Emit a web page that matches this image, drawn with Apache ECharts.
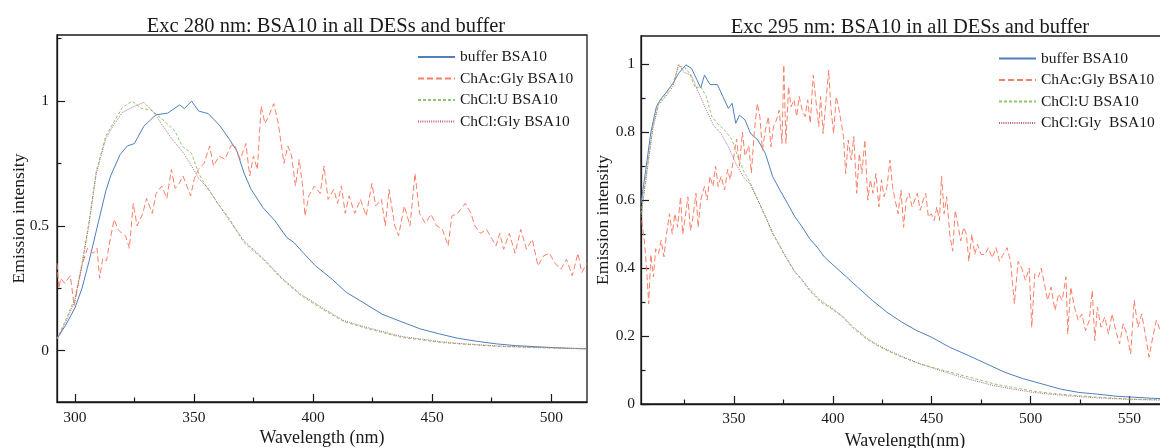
<!DOCTYPE html>
<html><head><meta charset="utf-8">
<script src="https://cdn.jsdelivr.net/npm/echarts@6/dist/echarts.min.js"></script>
<style>html,body{margin:0;padding:0;background:#fff;overflow:hidden;width:1160px;height:448px}#c{width:1170px;height:448px}</style>
</head><body><div id="c"></div><script>
// ---------- DATA ----------
const titles = ['Exc 280 nm: BSA10 in all DESs and buffer', 'Exc 295 nm: BSA10 in all DESs and buffer'];
const names280 = ['buffer BSA10', 'ChAc:Gly BSA10', 'ChCl:U BSA10', 'ChCl:Gly BSA10'];
const names295 = ['buffer BSA10', 'ChAc:Gly BSA10', 'ChCl:U BSA10', 'ChCl:Gly  BSA10'];
const xTicks280 = [300, 350, 400, 450, 500];
const xMinor280 = [325, 375, 425, 475];
const yTicks280 = [0, 0.5, 1];
const yMinor280 = [0.25, 0.75, 1.25];
const xTicks295 = [350, 400, 450, 500, 550];
const xMinor295 = [325, 375, 425, 475, 525];
const yTicks295 = [0, 0.2, 0.4, 0.6, 0.8, 1];
const yMinor295 = [0.1, 0.3, 0.5, 0.7, 0.9];

// Exc 280 nm  [wavelength, intensity]
const buffer280 = [[292.5,0.047],[296,0.10],[300,0.17],[303,0.25],[306,0.36],[310,0.52],[313,0.64],[315,0.70],[319,0.786],[322,0.82],[325,0.83],[329,0.90],[334,0.945],[339,0.952],[344,0.985],[346,0.97],[349,1.0],[352,0.96],[356,0.95],[361,0.90],[365,0.845],[368,0.80],[371,0.712],[374,0.646],[379,0.573],[384,0.52],[389,0.453],[392,0.433],[397,0.38],[401,0.34],[408,0.286],[414,0.233],[421,0.193],[429,0.146],[437,0.116],[445,0.087],[453,0.067],[461,0.049],[469,0.037],[477,0.027],[485,0.02],[493,0.016],[501,0.012],[508,0.009],[515,0.007]];
const chac280 = [[292.5,0.35],[293.3,0.25],[294.1,0.29],[295.7,0.27],[298.1,0.30],[299.7,0.18],[301.3,0.26],[302.9,0.34],[305.3,0.41],[307.7,0.39],[309.3,0.41],[310.4,0.29],[311.7,0.37],[313.3,0.36],[314.9,0.45],[316.5,0.526],[318.1,0.486],[319.7,0.47],[321.3,0.46],[322.9,0.41],[324.5,0.59],[326.1,0.50],[328.5,0.55],[330.1,0.61],[332.5,0.55],[334.1,0.63],[336.5,0.66],[338.6,0.61],[340.5,0.726],[342.1,0.65],[343.8,0.67],[345.4,0.70],[347,0.66],[348.6,0.62],[350.2,0.69],[351.8,0.726],[354.2,0.75],[356.6,0.82],[358.2,0.74],[360.6,0.78],[363,0.766],[365.4,0.82],[367,0.826],[369.4,0.766],[371.8,0.83],[373.4,0.70],[375,0.78],[376.6,0.726],[378.2,0.98],[379.8,0.91],[381.4,0.94],[383.5,0.99],[385.4,0.91],[387.8,0.75],[389.4,0.82],[391,0.78],[392.6,0.66],[394.2,0.766],[395.8,0.646],[396.6,0.54],[398.2,0.62],[400.6,0.66],[403,0.63],[404.6,0.74],[406.3,0.606],[408.7,0.646],[410.3,0.59],[411.9,0.66],[413.5,0.55],[415.1,0.62],[417.5,0.55],[419.9,0.606],[422.3,0.54],[424.7,0.67],[426.3,0.58],[428.7,0.606],[430.3,0.50],[431.9,0.646],[434.3,0.50],[435.9,0.46],[438.3,0.58],[440.7,0.50],[442.8,0.71],[444.7,0.55],[447.1,0.51],[449.5,0.546],[451.9,0.50],[454.3,0.486],[456.7,0.42],[458.3,0.54],[460.7,0.55],[463.9,0.59],[466.3,0.55],[467.9,0.50],[470.3,0.47],[472.8,0.486],[475.2,0.446],[476.8,0.42],[478.4,0.47],[480,0.406],[482.4,0.47],[484.8,0.39],[487.2,0.486],[489.6,0.406],[492,0.446],[494.4,0.34],[496.8,0.38],[499.2,0.39],[501.6,0.35],[504,0.326],[506.4,0.366],[508.8,0.30],[511.2,0.39],[512.8,0.313],[515,0.35]];
const chclu280 = [[292.5,0.047],[296,0.12],[300,0.21],[303,0.35],[306,0.52],[309,0.72],[313,0.86],[316,0.91],[320,0.975],[324,1.0],[328,0.97],[332,0.965],[337,0.925],[342,0.88],[345,0.82],[349,0.79],[352,0.71],[355,0.66],[360,0.59],[365,0.526],[371,0.433],[379,0.366],[387,0.286],[395,0.22],[405,0.16],[413,0.116],[421,0.093],[429,0.073],[437,0.053],[445,0.044],[453,0.033],[461,0.027],[477,0.017],[493,0.012],[515,0.007]];
const chclgly280 = [[292.5,0.047],[296,0.11],[300,0.20],[303,0.34],[306,0.51],[309,0.71],[313,0.85],[316,0.90],[320,0.955],[324,0.975],[329,0.995],[333,0.955],[337,0.90],[341,0.845],[345,0.80],[349,0.74],[352,0.69],[356,0.65],[360,0.59],[365,0.52],[371,0.44],[379,0.37],[387,0.29],[395,0.225],[405,0.165],[413,0.12],[421,0.097],[429,0.077],[437,0.057],[445,0.047],[453,0.036],[461,0.029],[477,0.019],[493,0.013],[515,0.008]];

// Exc 295 nm  [wavelength, intensity]
const buffer295 = [[303,0.59],[305.2,0.68],[308,0.80],[310.8,0.875],[312.7,0.895],[315.5,0.915],[319.2,0.944],[322,0.973],[325.7,0.998],[328.5,0.988],[331.3,0.954],[333.2,0.93],[335.1,0.968],[337.9,0.94],[341.6,0.94],[344.4,0.905],[347.2,0.87],[349.1,0.885],[350.9,0.826],[352.8,0.85],[355.6,0.836],[358.4,0.796],[362.1,0.777],[365.9,0.737],[369.6,0.669],[373.3,0.629],[377.1,0.59],[380.8,0.551],[384.5,0.521],[388.2,0.487],[392,0.462],[395.7,0.433],[401.3,0.403],[406.9,0.374],[412.5,0.344],[420,0.305],[427.4,0.27],[434.9,0.241],[442.4,0.216],[449.8,0.197],[459.1,0.167],[468.5,0.143],[477.8,0.118],[487.1,0.093],[496.5,0.074],[505.8,0.059],[515.1,0.044],[524.4,0.034],[533.8,0.029],[543.1,0.023],[552.4,0.02],[561,0.017],[570,0.015]];
const chac295 = [[303.4,0.54],[304.7,0.48],[305.8,0.40],[306.9,0.295],[308,0.44],[309.3,0.374],[310.4,0.457],[311.8,0.442],[313.2,0.482],[314.6,0.433],[315.9,0.50],[317.4,0.56],[318.8,0.50],[320.1,0.56],[321.5,0.52],[323,0.61],[324.1,0.50],[325.4,0.55],[326.7,0.61],[328,0.51],[329.3,0.55],[330.8,0.62],[331.9,0.52],[333.2,0.60],[335.1,0.64],[336.4,0.60],[337.9,0.67],[339.4,0.64],[340.7,0.70],[342,0.64],[343.5,0.67],[345.3,0.63],[346.8,0.69],[348.1,0.66],[350,0.73],[351.3,0.78],[352.8,0.70],[354.3,0.80],[355.6,0.73],[357.5,0.76],[358.8,0.68],[360.3,0.80],[361.8,0.885],[363.1,0.846],[364.4,0.747],[365.9,0.806],[367.4,0.846],[368.7,0.757],[370,0.816],[371.5,0.836],[372.9,0.865],[374.3,0.767],[375.2,0.998],[376.3,0.767],[377.6,0.934],[378.9,0.875],[380.4,0.895],[381.7,0.846],[383,0.905],[384.5,0.865],[386,0.846],[387.3,0.895],[388.6,0.826],[390.1,0.968],[391.4,0.895],[392.9,0.816],[393.8,0.905],[395.1,0.796],[396.6,0.895],[397.9,0.983],[399.1,0.865],[400.4,0.796],[401.7,0.905],[403.2,0.865],[404.3,0.826],[405.4,0.787],[406.5,0.678],[407.8,0.777],[409.3,0.718],[410.6,0.787],[412.1,0.62],[413.4,0.737],[414.7,0.678],[416.2,0.777],[417.7,0.60],[419,0.66],[420.3,0.62],[421.8,0.678],[423.3,0.58],[424.6,0.66],[425.9,0.61],[427.4,0.64],[428.9,0.718],[430.2,0.64],[431.5,0.60],[433,0.56],[434.5,0.63],[435.8,0.52],[437.1,0.60],[438.6,0.62],[440.1,0.58],[441.4,0.60],[442.7,0.62],[444.2,0.57],[445.7,0.60],[447,0.62],[448.3,0.55],[449.8,0.56],[451.3,0.54],[452.6,0.58],[453.9,0.54],[455,0.67],[456.3,0.56],[457.6,0.61],[459.1,0.50],[460.6,0.45],[461.9,0.57],[463.2,0.53],[464.7,0.48],[466.2,0.52],[467.5,0.50],[468.8,0.42],[470.3,0.50],[471.8,0.44],[473.1,0.47],[475,0.44],[476.9,0.44],[478.7,0.46],[480.6,0.43],[482.5,0.46],[484.3,0.42],[486.2,0.44],[488.1,0.46],[489.9,0.42],[491.8,0.295],[493.7,0.42],[495.5,0.40],[497.4,0.364],[499.3,0.40],[500.6,0.226],[502.1,0.383],[504,0.374],[505.4,0.40],[507.3,0.344],[508.6,0.305],[510.4,0.344],[512.3,0.275],[514.2,0.324],[516,0.305],[517.9,0.374],[518.8,0.206],[520.3,0.344],[522.2,0.285],[524.1,0.246],[525.9,0.265],[527.8,0.216],[529.7,0.246],[531.2,0.334],[532.5,0.187],[533.8,0.285],[535.6,0.226],[537.5,0.256],[539.4,0.206],[541.2,0.265],[543.1,0.216],[545,0.177],[546.8,0.236],[548.7,0.206],[550.6,0.147],[552.4,0.305],[554.3,0.226],[556.2,0.265],[558,0.206],[559.9,0.138],[561.8,0.197],[563.6,0.246],[565,0.226],[567,0.20],[570,0.24]];
const chclu295 = [[303,0.56],[306.2,0.70],[309,0.816],[311.8,0.885],[315.5,0.91],[319.2,0.944],[322,0.993],[324.8,0.993],[327.6,0.973],[330.4,0.93],[333.2,0.934],[336,0.905],[338.8,0.846],[341.6,0.826],[345.3,0.806],[349.1,0.777],[351.9,0.728],[354.7,0.688],[358.4,0.649],[362.1,0.60],[365.9,0.551],[369.6,0.501],[373.3,0.462],[377.1,0.423],[380.8,0.388],[384.5,0.364],[388.2,0.334],[393.8,0.30],[399.4,0.28],[405,0.256],[410.6,0.221],[418.1,0.187],[425.6,0.162],[434.9,0.138],[444.2,0.118],[453.5,0.103],[462.9,0.088],[472.2,0.074],[481.5,0.059],[490.9,0.049],[500.2,0.039],[509.5,0.032],[518.8,0.027],[533.8,0.02],[548.7,0.015],[560,0.013],[570,0.012]];
const chclgly295 = [[303,0.55],[306.2,0.69],[309,0.81],[311.8,0.88],[315.5,0.905],[319.2,0.935],[322,1.0],[325,0.975],[328.5,0.968],[332.3,0.914],[336,0.865],[339.7,0.82],[343.5,0.796],[347.2,0.757],[350.9,0.708],[354.7,0.669],[358.4,0.645],[362.1,0.60],[365.9,0.553],[369.6,0.503],[373.3,0.465],[377.1,0.425],[380.8,0.39],[384.5,0.366],[388.2,0.338],[393.8,0.305],[399.4,0.283],[405,0.258],[410.6,0.225],[418.1,0.19],[425.6,0.165],[434.9,0.14],[444.2,0.118],[453.5,0.10],[462.9,0.083],[472.2,0.068],[481.5,0.054],[490.9,0.044],[500.2,0.035],[509.5,0.029],[518.8,0.024],[533.8,0.018],[548.7,0.014],[560,0.012],[570,0.011]];

// ---------- STYLE ----------
const FONT = 'Liberation Serif';
const INK = '#1a1a1a';
const COLORS = ['#4f80bd', '#fa7f68', '#8fc76c', '#b8627e'];
const DASH = ['solid', [6, 3], [3, 2], [1, 1.2]];

function xPair(grid, min, max, majors, minors, name, gap, margin) {
  return [{
    gridIndex: grid, type: 'value', min: min, max: max, position: 'bottom',
    axisLine: { show: true, onZero: false, lineStyle: { color: INK, width: 1.3 } },
    axisTick: { show: true, inside: true, length: 8, customValues: majors, lineStyle: { color: INK, width: 1.2 } },
    axisLabel: { show: true, customValues: majors, margin: margin, color: INK, fontFamily: FONT, fontSize: 15.5 },
    splitLine: { show: false },
    name: name, nameLocation: 'middle', nameGap: gap, nameMoveOverlap: false,
    nameTextStyle: { color: INK, fontFamily: FONT, fontSize: 18 }
  }, {
    gridIndex: grid, type: 'value', min: min, max: max, position: 'bottom',
    axisLine: { show: false, onZero: false },
    axisTick: { show: true, inside: true, length: 4.5, customValues: minors, lineStyle: { color: INK, width: 1.2 } },
    axisLabel: { show: false }, splitLine: { show: false }
  }];
}
function yPair(grid, min, max, majors, minors, name, gap, margin) {
  return [{
    gridIndex: grid, type: 'value', min: min, max: max, position: 'left',
    axisLine: { show: true, onZero: false, lineStyle: { color: INK, width: 1.3 } },
    axisTick: { show: true, inside: true, length: 8, customValues: majors, lineStyle: { color: INK, width: 1.2 } },
    axisLabel: { show: true, customValues: majors, margin: margin, color: INK, fontFamily: FONT, fontSize: 15.5 },
    splitLine: { show: false },
    name: name, nameLocation: 'middle', nameGap: gap, nameRotate: 90, nameMoveOverlap: false,
    nameTextStyle: { color: INK, fontFamily: FONT, fontSize: 17.5 }
  }, {
    gridIndex: grid, type: 'value', min: min, max: max, position: 'left',
    axisLine: { show: false, onZero: false },
    axisTick: { show: true, inside: true, length: 4.5, customValues: minors, lineStyle: { color: INK, width: 1.2 } },
    axisLabel: { show: false }, splitLine: { show: false }
  }];
}

const xAxes = [].concat(
  xPair(0, 292.5, 515, xTicks280, xMinor280, 'Wavelength (nm)', 27, 8),
  xPair(1, 303, 570, xTicks295, xMinor295, 'Wavelength(nm)', 28, 7)
);
const yAxes = [].concat(
  yPair(0, -0.206, 1.265, yTicks280, yMinor280, 'Emission intensity', 29, 8),
  yPair(1, 0, 1.083, yTicks295, yMinor295, 'Emission intensity', 29, 6)
);

const data280 = [buffer280, chac280, chclu280, chclgly280];
const data295 = [buffer295, chac295, chclu295, chclgly295];
const series = [];
data280.forEach((d, i) => series.push({
  type: 'line', name: names280[i], data: d, xAxisIndex: 0, yAxisIndex: 0,
  symbol: 'none', showSymbol: false, smooth: false, animation: false,
  lineStyle: { color: COLORS[i], width: 1, type: DASH[i] }, itemStyle: { color: COLORS[i] }
}));
data295.forEach((d, i) => series.push({
  type: 'line', name: names295[i], data: d, xAxisIndex: 2, yAxisIndex: 2,
  symbol: 'none', showSymbol: false, smooth: false, animation: false,
  lineStyle: { color: COLORS[i], width: 1, type: DASH[i] }, itemStyle: { color: COLORS[i] }
}));

const legendCommon = {
  orient: 'vertical', itemWidth: 37, itemHeight: 10, itemGap: 5.5, padding: 0,
  itemStyle: { opacity: 0 },
  textStyle: { color: INK, fontFamily: FONT, fontSize: 15.5, lineHeight: 16 },
  selectedMode: false
};

const option = {
  animation: false,
  backgroundColor: '#fff',
  title: [
    { text: titles[0], left: 321, top: 11, textAlign: 'center', textStyle: { color: INK, fontFamily: FONT, fontSize: 20.5, fontWeight: 'normal' } },
    { text: titles[1], left: 905, top: 12, textAlign: 'center', textStyle: { color: INK, fontFamily: FONT, fontSize: 20.5, fontWeight: 'normal' } }
  ],
  grid: [
    { left: 57, top: 35, width: 530, height: 367, show: true, borderColor: INK, borderWidth: 1.3, backgroundColor: 'transparent', containLabel: false, outerBoundsMode: 'none' },
    { left: 641, top: 36, width: 528, height: 368, show: true, borderColor: INK, borderWidth: 1.3, backgroundColor: 'transparent', containLabel: false, outerBoundsMode: 'none' }
  ],
  legend: [
    Object.assign({ data: names280, left: 417, top: 49 }, legendCommon),
    Object.assign({ data: names295, left: 998, top: 50.5 }, legendCommon)
  ],
  xAxis: xAxes,
  yAxis: yAxes,
  series: series
};

const chart = echarts.init(document.getElementById('c'), null, { renderer: 'canvas' });
chart.setOption(option);
</script></body></html>
